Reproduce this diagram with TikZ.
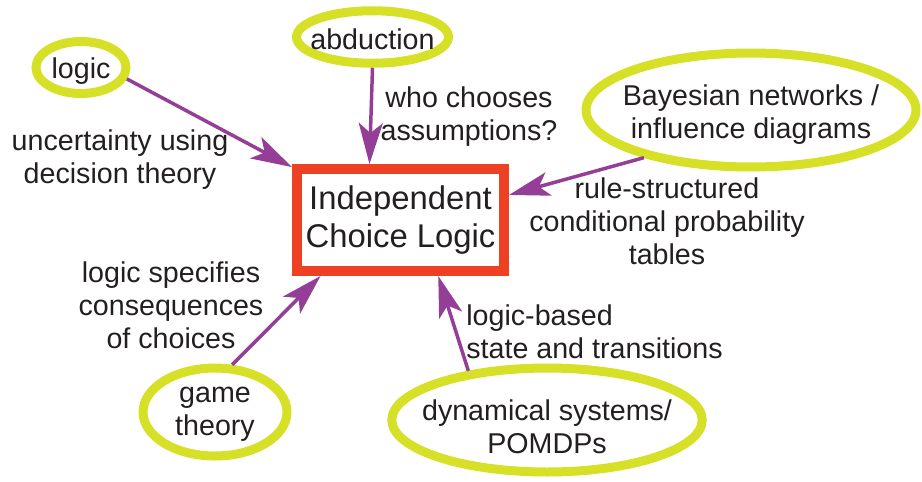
\documentclass[tikz,border=0pt]{standalone}
\usepackage{fontspec}
\setmainfont{Liberation Sans}
\usetikzlibrary{arrows.meta,shapes.geometric}
\definecolor{linkpurple}{RGB}{149,62,151}
\definecolor{ideayellow}{RGB}{214,224,38}
\definecolor{iclred}{RGB}{238,64,35}
\definecolor{inkgray}{RGB}{35,31,32}
\begin{document}
\begin{tikzpicture}[x=0.02cm, y=-0.02cm,
    every node/.style={font=\fontsize{16.3}{18.7}\selectfont, text=inkgray, inner sep=0pt},
    idea/.style={ellipse, draw=ideayellow, line width=0.18cm},
    link/.style={-{Stealth[length=0.82cm,width=0.48cm,inset=0.2cm]}, linkpurple, line width=0.07cm}]
    \useasboundingbox (0,0) rectangle (922,481);
    \node[draw=iclred, line width=0.2cm, minimum width=4.14cm, minimum height=2.04cm, align=center,
          font=\fontsize{18.7}{21.5}\selectfont] (icl) at (400.5,220) {Independent\\Choice Logic};
    \node[idea, minimum width=1.8cm, minimum height=1.04cm,
          label={[yshift=-0.07cm]center:logic}] (logic) at (81,67.5) {};
    \node[idea, minimum width=3.04cm, minimum height=1.05cm,
          label={[yshift=-0.04cm]center:abduction}] (abduction) at (372.5,37) {};
    \node[idea, minimum width=6.6cm, minimum height=2.28cm,
          label={[align=center, yshift=-0.09cm]center:{Bayesian networks /\\influence diagrams}}] (bayes) at (751,110) {};
    \node[idea, minimum width=2.88cm, minimum height=1.76cm,
          label={[align=center, yshift=-0.05cm]center:{game\\theory}}] (game) at (215,412) {};
    \node[idea, minimum width=6.21cm, minimum height=2.08cm,
          label={[align=center, yshift=-0.14cm]center:{dynamical systems/\\POMDPs}}] (dynamic) at (547,420) {};
    \node[align=center] (uncertain) at (120,160) {uncertainty using\\decision theory};
    \node[align=center] (whochooses) at (469,117) {who chooses\\assumptions?};
    \node[align=center] (rulecpt) at (667,221.5) {rule-structured\\conditional probability\\tables};
    \node[align=center] (logicspec) at (171,305.5) {logic specifies\\consequences\\of choices};
    \node[align=left, anchor=west] (logicbased) at (466,331.5) {logic-based\\state and transitions};
    \draw[link] (logic.-14) -- (icl.154);
    \draw[link] (abduction.-90) -- (icl.119);
    \draw[link] (bayes.204) -- (icl.13);
    \draw[link] (game.70) -- (icl.215);
    \draw[link] (dynamic.148) -- (icl.-56);
\end{tikzpicture}
\end{document}
